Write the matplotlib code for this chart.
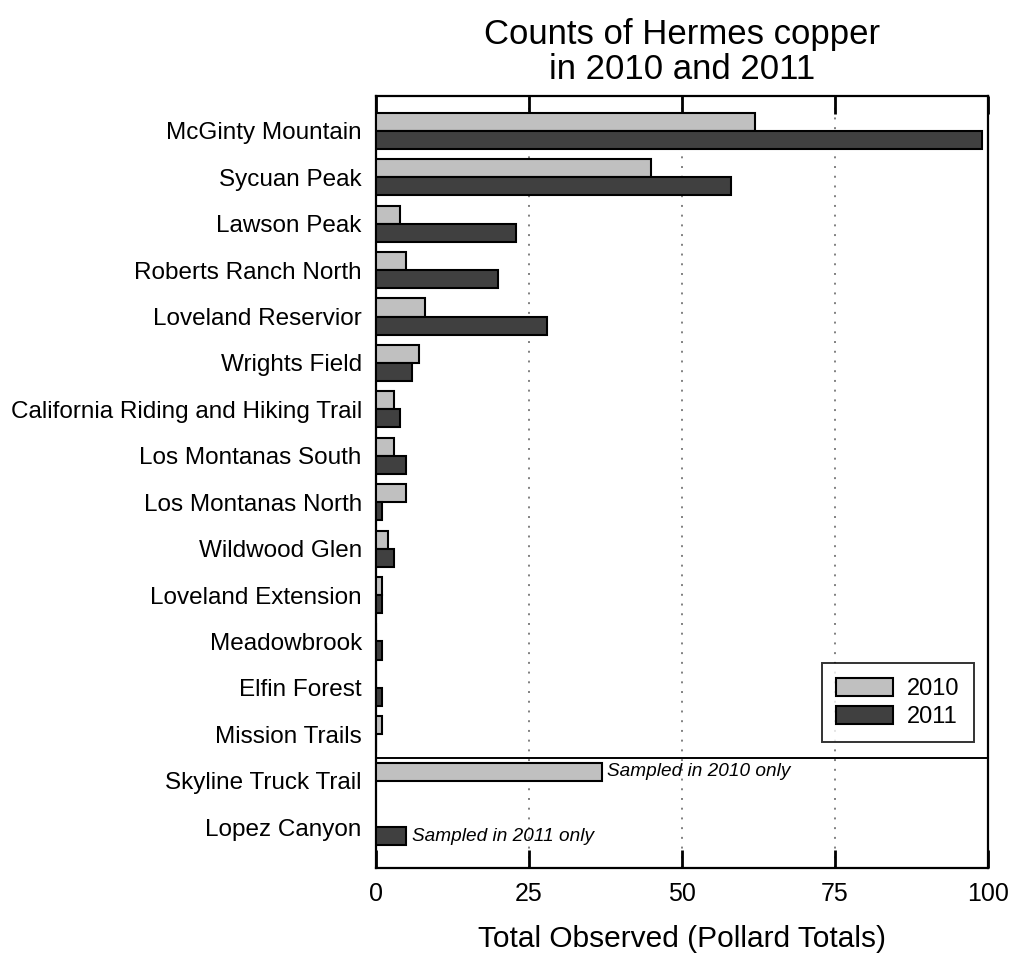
import numpy as np
import matplotlib.pyplot as plt

plt.rcParams['font.family'] = ['Liberation Sans', 'DejaVu Sans']

# Sites, top to bottom
sites = ["McGinty Mountain", "Sycuan Peak", "Lawson Peak", "Roberts Ranch North",
         "Loveland Reservior", "Wrights Field", "California Riding and Hiking Trail",
         "Los Montanas South", "Los Montanas North", "Wildwood Glen",
         "Loveland Extension", "Meadowbrook", "Elfin Forest", "Mission Trails",
         "Skyline Truck Trail", "Lopez Canyon"]
# Pollard totals per year (None = site not sampled that year)
counts_2010 = [62, 45, 4, 5, 8, 7, 3, 3, 5, 2, 1, 0, 0, 1, 37, None]
counts_2011 = [99, 58, 23, 20, 28, 6, 4, 5, 1, 3, 1, 1, 1, 0, None, 5]
notes = {14: "Sampled in 2010 only", 15: "Sampled in 2011 only"}

light = "#c0c0c0"
dark = "#404040"
bar_h = 0.39

fig = plt.figure(figsize=(10.1, 9.56), dpi=100)
ax = fig.add_axes([0.372, 0.092, 0.606, 0.8076])

y = np.arange(len(sites))
v10 = np.array([np.nan if v is None else v for v in counts_2010], dtype=float)
v11 = np.array([np.nan if v is None else v for v in counts_2011], dtype=float)

ax.barh(y - bar_h / 2, v10, height=bar_h, color=light, edgecolor="black",
        linewidth=1.5, label="2010", zorder=3)
ax.barh(y + bar_h / 2, v11, height=bar_h, color=dark, edgecolor="black",
        linewidth=1.5, label="2011", zorder=3)

# italic notes for the sites sampled in one year only
for i, txt in notes.items():
    if not np.isnan(v10[i]):
        ax.text(v10[i] + 0.8, i - bar_h / 2, txt, style="italic", fontsize=13.7,
                va="center", ha="left", zorder=4)
    else:
        ax.text(v11[i] + 1.0, i + bar_h / 2, txt, style="italic", fontsize=13.7,
                va="center", ha="left", zorder=4)

# line separating sites sampled in both years
ax.axhline(13.5, color="black", linewidth=1.4, zorder=4)

ax.set_xlim(0, 100)
ax.set_ylim(15.88, -0.75)
ax.set_xticks([0, 25, 50, 75, 100])
ax.set_yticks(y)
ax.set_yticklabels(sites, fontsize=17.5)
ax.tick_params(axis="y", length=0, pad=10)
ax.tick_params(axis="x", direction="in", length=13, width=2, top=True,
               labelsize=18, pad=10)
for xv in [25, 50, 75]:
    ax.axvline(xv, color="#808080", linestyle=(0, (1, 4)), linewidth=1.4, zorder=1)
for s in ax.spines.values():
    s.set_linewidth(1.6)

ax.set_xlabel("Total Observed (Pollard Totals)", fontsize=21.5, labelpad=14)
ax.set_title("Counts of Hermes copper\nin 2010 and 2011", fontsize=25, pad=12,
             linespacing=1.1)

leg = ax.legend(loc="lower right", bbox_to_anchor=(0.977, 0.163), fontsize=17,
                frameon=True, fancybox=False, edgecolor="black", handlelength=2.4,
                handleheight=0.8, borderpad=0.6, labelspacing=0.25,
                handletextpad=0.6, borderaxespad=0)
leg.get_frame().set_linewidth(1.4)

fig.savefig("out.png", dpi=100)
